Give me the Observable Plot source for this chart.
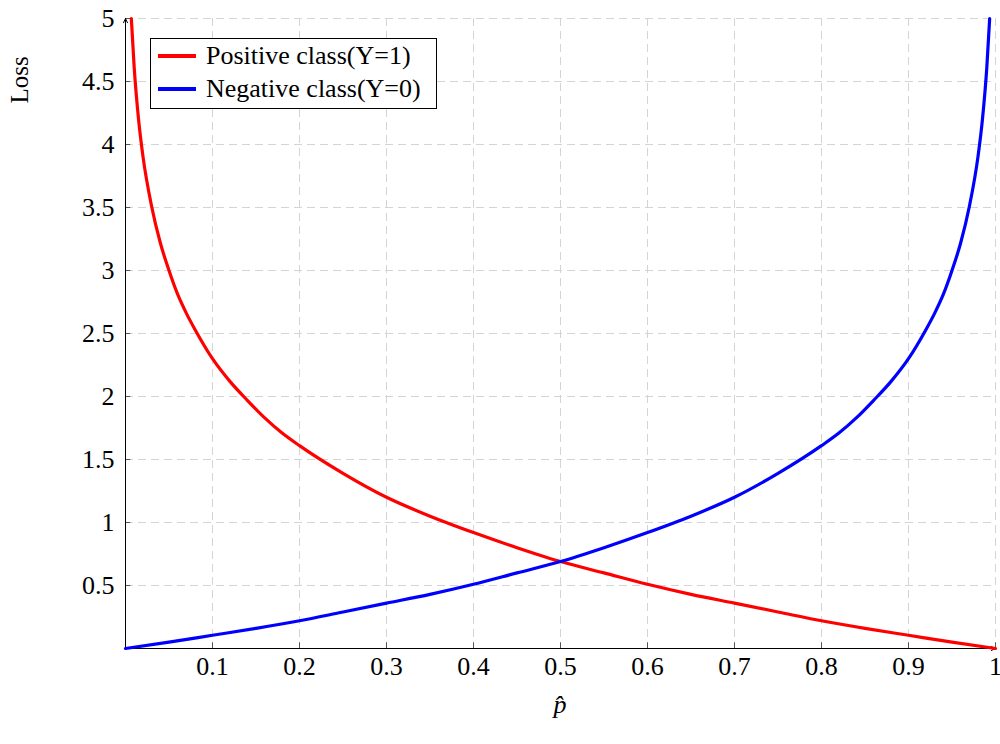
<!DOCTYPE html>
<html>
<head>
<meta charset="utf-8">
<script src="https://cdn.jsdelivr.net/npm/d3@7"></script>
<script src="https://cdn.jsdelivr.net/npm/@observablehq/plot@0.6"></script>
<style>
  html, body { margin: 0; padding: 0; background: #fff; }
  #wrap { position: relative; width: 1000px; height: 744px; font-family: "Liberation Serif", serif; }
  #legend { position: absolute; left: 150px; top: 38px; width: 285px; height: 69px; border: 1px solid #000; background: #fff; font-family: "Liberation Serif", serif; font-size: 26px; color: #000; }
  .row { position: absolute; left: 7px; height: 30px; display: flex; align-items: center; white-space: nowrap; }
  .sw { width: 38px; height: 3.2px; margin-right: 10px; }
</style>
</head>
<body>
<div id="wrap"></div>
<script>
// Positive class (Y=1): loss vs predicted probability
const posP    = [0.0067, 0.01, 0.015, 0.02, 0.03, 0.04, 0.05, 0.06, 0.07, 0.08, 0.1, 0.12, 0.14, 0.16, 0.18, 0.2, 0.25, 0.3, 0.35, 0.4, 0.45, 0.5, 0.55, 0.6, 0.65, 0.7, 0.75, 0.8, 0.85, 0.9, 0.95, 1];
const posLoss = [5.0, 4.61, 4.20, 3.91, 3.51, 3.22, 3.00, 2.81, 2.66, 2.53, 2.30, 2.12, 1.97, 1.83, 1.71, 1.61, 1.39, 1.20, 1.05, 0.92, 0.80, 0.69, 0.60, 0.51, 0.43, 0.36, 0.29, 0.22, 0.16, 0.105, 0.05, 0];
// Negative class (Y=0)
const negP    = [0, 0.05, 0.1, 0.15, 0.2, 0.25, 0.3, 0.35, 0.4, 0.45, 0.5, 0.55, 0.6, 0.65, 0.7, 0.75, 0.8, 0.82, 0.84, 0.86, 0.88, 0.9, 0.92, 0.93, 0.94, 0.95, 0.96, 0.97, 0.98, 0.985, 0.99, 0.9933];
const negLoss = [0, 0.05, 0.105, 0.16, 0.22, 0.29, 0.36, 0.43, 0.51, 0.60, 0.69, 0.80, 0.92, 1.05, 1.20, 1.39, 1.61, 1.71, 1.83, 1.97, 2.12, 2.30, 2.53, 2.66, 2.81, 3.00, 3.22, 3.51, 3.91, 4.20, 4.61, 5.0];

const xTicks = [0.1, 0.2, 0.3, 0.4, 0.5, 0.6, 0.7, 0.8, 0.9, 1];
const yTicks = [0.5, 1, 1.5, 2, 2.5, 3, 3.5, 4, 4.5, 5];
const seriesNames = ["Positive class(Y=1)", "Negative class(Y=0)"];
const seriesColors = ["#ff0000", "#0000ff"];

const pos = posP.map((p, i) => ({p, loss: posLoss[i]}));
const neg = negP.map((p, i) => ({p, loss: negLoss[i]}));

const chart = Plot.plot({
  width: 1000,
  height: 744,
  marginLeft: 125,
  marginRight: 5,
  marginTop: 18,
  marginBottom: 96,
  style: { fontFamily: "Liberation Serif, serif", fontSize: "26px", color: "#000", background: "#fff", overflow: "visible" },
  x: { domain: [0, 1] },
  y: { domain: [0, 5] },
  marks: [
    Plot.gridX(xTicks, { stroke: "#d4d4d4", strokeOpacity: 1, strokeDasharray: "8,5" }),
    Plot.gridY(yTicks, { stroke: "#d4d4d4", strokeOpacity: 1, strokeDasharray: "8,5" }),
    Plot.axisX(xTicks, { tickSize: 0, tickPadding: 8, label: null, fontSize: 26, tickFormat: d => String(d) }),
    Plot.axisY(yTicks, { tickSize: 0, tickPadding: 11, label: null, fontSize: 26, tickFormat: d => String(d) }),
    Plot.ruleX(xTicks, { x: d => d, y1: 0, y2: 0.045, stroke: "#555", strokeWidth: 1 }),
    Plot.ruleY(yTicks, { y: d => d, x1: 0, x2: 0.006, stroke: "#555", strokeWidth: 1 }),
    Plot.arrow([0], { x1: 0, y1: 0, x2: 0, y2: 5, stroke: "#000", strokeWidth: 1, headLength: 7, headAngle: 50, insetEnd: 0 }),
    Plot.arrow([0], { x1: 0, y1: 0, x2: 1, y2: 0, stroke: "#000", strokeWidth: 1, headLength: 7, headAngle: 50, insetEnd: 0 }),
    Plot.line(pos, { x: "p", y: "loss", stroke: seriesColors[0], strokeWidth: 3.2, curve: "monotone-x" }),
    Plot.line(neg, { x: "p", y: "loss", stroke: seriesColors[1], strokeWidth: 3.2, curve: "monotone-x" })
  ]
});

const wrap = document.getElementById("wrap");
wrap.appendChild(chart);

const svg = d3.select(chart);
svg.append("text")
  .attr("transform", "translate(28,80) rotate(-90)")
  .attr("text-anchor", "middle")
  .attr("font-family", "Liberation Serif, serif")
  .attr("font-size", 25)
  .attr("fill", "#000")
  .text("Loss");
svg.append("text")
  .attr("x", 560)
  .attr("y", 713)
  .attr("text-anchor", "middle")
  .attr("font-family", "Liberation Serif, serif")
  .attr("font-size", 26)
  .attr("font-style", "italic")
  .attr("fill", "#000")
  .text("p\u0302");

const legend = document.createElement("div");
legend.id = "legend";
seriesNames.forEach((name, i) => {
  const row = document.createElement("div");
  row.className = "row";
  row.style.top = (2 + i * 33) + "px";
  const sw = document.createElement("div");
  sw.className = "sw";
  sw.style.background = seriesColors[i];
  const t = document.createElement("span");
  t.textContent = name;
  row.appendChild(sw);
  row.appendChild(t);
  legend.appendChild(row);
});
wrap.appendChild(legend);
</script>
</body>
</html>
